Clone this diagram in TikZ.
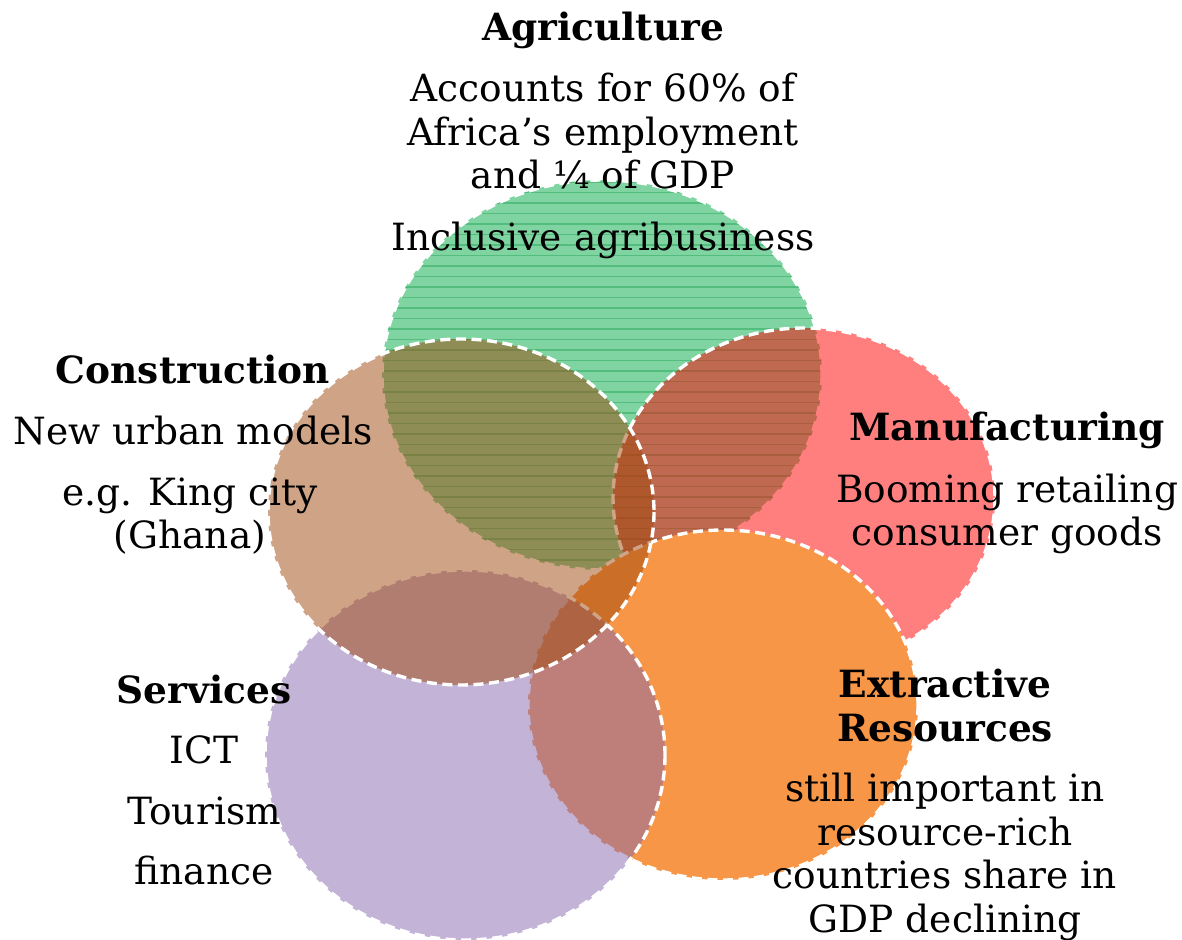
\documentclass[tikz,border=0pt]{standalone}
\usepackage{fontspec}
\setmainfont{DejaVu Serif}
\usepackage{tikz}
\usetikzlibrary{positioning}

\definecolor{agrigreen}{RGB}{0,170,70}
\definecolor{manured}{RGB}{255,0,0}
\definecolor{extorange}{RGB}{247,150,70}
\definecolor{servpurple}{RGB}{135,105,175}
\definecolor{consbrown}{RGB}{160,72,12}

\begin{document}
\begin{tikzpicture}[x=0.5pt, y=-0.5pt]
	\tikzset{venn/.style={fill opacity=0.5}}
	\tikzset{rim/.style={draw=white, line width=1.7pt, dash pattern=on 5pt off 2.8pt}}
	\tikzset{sectortext/.style={align=center, inner sep=0pt, font=\fontsize{18.75}{21.75}\selectfont}}

	\useasboundingbox (0,0) rectangle (1182,940);

	% Agriculture (striped)
	\fill [agrigreen, venn] (602,375) ellipse [x radius=220, y radius=195];
	\begin{scope}
		\clip (602,375) ellipse [x radius=220, y radius=195];
		\foreach \row in {182,192.5,...,575}
			\draw [agrigreen!85!black, opacity=0.35, line width=0.6pt] (380,\row) -- (825,\row);
	\end{scope}
	\draw [rim] (602,375) ellipse [x radius=220, y radius=195];

	% Manufacturing
	\fill [manured, venn] (804,498) ellipse [x radius=191, y radius=170];
	\draw [rim] (804,498) ellipse [x radius=191, y radius=170];

	% Extractive resources
	\fill [extorange] (723,705) ellipse [x radius=195, y radius=175];
	\draw [rim] (723,705) ellipse [x radius=195, y radius=175];

	% Services
	\fill [servpurple, venn] (465,755) ellipse [x radius=200, y radius=185];
	\draw [rim] (465,755) ellipse [x radius=200, y radius=185];

	% Construction
	\fill [consbrown, venn] (461,512) ellipse [x radius=193, y radius=173];
	\draw [rim] (461,512) ellipse [x radius=193, y radius=173];

	% Texts
	\node (agri) [sectortext] at (603,135) {\textbf{Agriculture}\\[9pt]Accounts for 60\% of\\Africa’s employment\\and ¼ of GDP\\[9pt]Inclusive agribusiness};
	\node (cons) [sectortext] at (193,400) {\textbf{Construction}\\[9pt]New urban models};
	\node (consex) [sectortext] at (190,516) {e.g. King city\\(Ghana)};
	\node (manu) [sectortext] at (1007,483) {\textbf{Manufacturing}\\[9pt]Booming retailing\\consumer goods};
	\node (serv) [sectortext] at (204,780) {\textbf{Services}\\[8.5pt]ICT\\[8.5pt]Tourism\\[8.5pt]finance};
	\node (extr) [sectortext] at (945,805) {\textbf{Extractive}\\\textbf{Resources}\\[8.5pt]still important in\\resource-rich\\countries share in\\GDP declining};
\end{tikzpicture}
\end{document}
